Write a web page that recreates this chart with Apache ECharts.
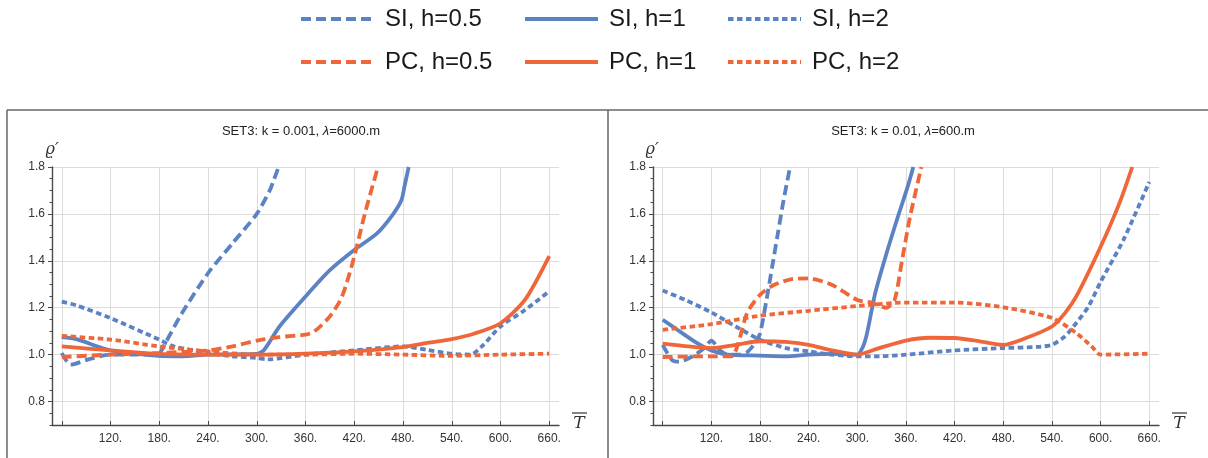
<!DOCTYPE html>
<html>
<head>
<meta charset="utf-8">
<script src="https://cdn.jsdelivr.net/npm/echarts@6/dist/echarts.min.js"></script>
<style>
  html, body { margin: 0; padding: 0; background: #ffffff; }
  #chart { width: 1208px; height: 458px; }
</style>
</head>
<body>
<div id="chart"></div>
<script>
// Tick values shared by both panels
const xTickValues = [60, 120, 180, 240, 300, 360, 420, 480, 540, 600, 660];
const xLabelValues = [120, 180, 240, 300, 360, 420, 480, 540, 600, 660];
const yTickValues = [0.8, 1.0, 1.2, 1.4, 1.6, 1.8];

const seriesNames = ['SI, h=0.5', 'SI, h=1', 'SI, h=2', 'PC, h=0.5', 'PC, h=1', 'PC, h=2'];
const panelTitles = ['SET3: k = 0.001, ', 'SET3: k = 0.01, '];
const panelLambdas = ['=6000.m', '=600.m'];

// Panel 1: k = 0.001, lambda = 6000 m
const k1_SI05_x = [60, 71, 93, 120, 150, 180, 186, 208, 240, 270, 300, 316, 320, 327];
const k1_SI05_y = [1.007, 0.957, 0.98, 1.0, 1.0, 1.007, 1.04, 1.177, 1.347, 1.474, 1.60, 1.70, 1.736, 1.80];
const k1_SI1_x = [60, 78, 120, 180, 208, 240, 300, 309, 328, 360, 390, 420, 448, 467, 478, 482, 487];
const k1_SI1_y = [1.075, 1.066, 1.018, 0.995, 0.993, 1.0, 1.003, 1.02, 1.12, 1.248, 1.36, 1.446, 1.517, 1.595, 1.658, 1.72, 1.80];
const k1_SI2_x = [60, 78, 120, 180, 198, 240, 270, 300, 313, 360, 420, 480, 510, 540, 563, 577, 600, 630, 660];
const k1_SI2_y = [1.226, 1.21, 1.156, 1.064, 1.035, 1.007, 0.993, 0.986, 0.98, 1.0, 1.018, 1.035, 1.02, 1.004, 1.0, 1.035, 1.12, 1.19, 1.27];
const k1_PC05_x = [60, 120, 180, 240, 270, 300, 328, 360, 371, 390, 405, 420, 433, 448];
const k1_PC05_y = [0.99, 1.0, 1.007, 1.018, 1.035, 1.06, 1.075, 1.085, 1.099, 1.163, 1.248, 1.418, 1.60, 1.786];
const k1_PC1_x = [60, 120, 180, 240, 300, 360, 420, 480, 510, 540, 568, 600, 630, 660];
const k1_PC1_y = [1.035, 1.018, 1.003, 1.0, 1.0, 1.004, 1.014, 1.032, 1.05, 1.066, 1.09, 1.134, 1.233, 1.42];
const k1_PC2_x = [60, 120, 180, 240, 300, 360, 420, 480, 540, 600, 660];
const k1_PC2_y = [1.08, 1.064, 1.035, 1.014, 1.0, 1.0, 1.004, 1.0, 0.995, 1.0, 1.004];

// Panel 2: k = 0.01, lambda = 600 m
const k2_SI05_x = [60, 71, 80, 97, 112, 120, 130, 140, 154, 164, 174, 180, 188, 195, 202, 209, 217];
const k2_SI05_y = [1.042, 0.979, 0.97, 0.993, 1.03, 1.06, 1.02, 1.0, 1.0, 1.01, 1.05, 1.09, 1.234, 1.375, 1.517, 1.658, 1.80];
const k2_SI1_x = [60, 78, 102, 120, 140, 180, 212, 240, 269, 300, 307, 312, 322, 336, 350, 362, 369];
const k2_SI1_y = [1.149, 1.106, 1.05, 1.018, 1.0, 0.996, 0.993, 1.0, 1.003, 1.0, 1.035, 1.092, 1.262, 1.432, 1.588, 1.715, 1.80];
const k2_SI2_x = [60, 88, 120, 150, 180, 212, 240, 269, 300, 327, 360, 420, 480, 522, 540, 556, 570, 585, 600, 628, 660];
const k2_SI2_y = [1.273, 1.233, 1.18, 1.12, 1.064, 1.028, 1.014, 1.0, 0.993, 0.993, 1.0, 1.018, 1.028, 1.033, 1.042, 1.078, 1.135, 1.205, 1.31, 1.488, 1.736];
const k2_PC05_x = [60, 120, 145, 152, 164, 180, 197, 221, 240, 269, 300, 317, 336, 346, 355, 365, 379];
const k2_PC05_y = [0.99, 0.993, 0.993, 1.035, 1.177, 1.255, 1.297, 1.323, 1.325, 1.297, 1.233, 1.222, 1.20, 1.234, 1.40, 1.588, 1.80];
const k2_PC1_x = [60, 92, 120, 150, 180, 212, 240, 269, 300, 327, 360, 389, 420, 451, 480, 508, 540, 556, 570, 600, 623, 639];
const k2_PC1_y = [1.047, 1.035, 1.028, 1.042, 1.057, 1.054, 1.042, 1.018, 1.0, 1.028, 1.06, 1.072, 1.071, 1.057, 1.042, 1.071, 1.12, 1.177, 1.248, 1.46, 1.644, 1.80];
const k2_PC2_x = [60, 120, 180, 240, 300, 360, 420, 480, 540, 570, 589, 600, 660];
const k2_PC2_y = [1.106, 1.13, 1.166, 1.187, 1.207, 1.222, 1.222, 1.202, 1.156, 1.092, 1.035, 1.0, 1.004];

const BLUE = '#5b82c3';
const ORANGE = '#ef6638';
const DASHED = [10, 5];
const DOTTED = [5.5, 3.5];
const FONT = 'Liberation Sans, Arial, sans-serif';

const styleOf = [
  { color: BLUE, type: DASHED },
  { color: BLUE, type: 'solid' },
  { color: BLUE, type: DOTTED },
  { color: ORANGE, type: DASHED },
  { color: ORANGE, type: 'solid' },
  { color: ORANGE, type: DOTTED }
];

const panelData = [
  [[k1_SI05_x, k1_SI05_y], [k1_SI1_x, k1_SI1_y], [k1_SI2_x, k1_SI2_y],
   [k1_PC05_x, k1_PC05_y], [k1_PC1_x, k1_PC1_y], [k1_PC2_x, k1_PC2_y]],
  [[k2_SI05_x, k2_SI05_y], [k2_SI1_x, k2_SI1_y], [k2_SI2_x, k2_SI2_y],
   [k2_PC05_x, k2_PC05_y], [k2_PC1_x, k2_PC1_y], [k2_PC2_x, k2_PC2_y]]
];

function pairs(xs, ys) { return xs.map((x, i) => [x, ys[i]]); }

const gridLefts = [52, 653];
const gridWidths = [507, 506];
const GRID_TOP = 167;
const GRID_H = 258;

const grids = gridLefts.map((l, i) => ({
  left: l, top: GRID_TOP, width: gridWidths[i], height: GRID_H,
  containLabel: false, outerBoundsMode: 'none'
}));

const xAxes = [0, 1].map(i => ({
  type: 'value', gridIndex: i, min: 48, max: 672,
  axisLine: { show: true, onZero: false, lineStyle: { color: '#4a4a4a', width: 1.4 } },
  axisTick: { show: true, inside: true, length: 4, customValues: xTickValues,
              lineStyle: { color: '#4a4a4a', width: 1 } },
  axisLabel: { show: true, customValues: xLabelValues, margin: 8,
               formatter: v => v + '.', color: '#333', fontSize: 12, fontFamily: FONT },
  splitLine: { show: true, lineStyle: { color: '#dcdcdc', width: 1 } }
}));

const yAxes = [];
[0, 1].forEach(i => {
  yAxes.push({
    type: 'value', gridIndex: i, min: 0.7, max: 1.8, position: 'left',
    axisLine: { show: true, onZero: false, lineStyle: { color: '#4a4a4a', width: 1.4 } },
    axisTick: { show: true, inside: false, length: 4, customValues: yTickValues,
                lineStyle: { color: '#4a4a4a', width: 1 } },
    axisLabel: { show: true, customValues: yTickValues, margin: 7,
                 formatter: v => v.toFixed(1), color: '#333', fontSize: 12, fontFamily: FONT },
    splitLine: { show: true, lineStyle: { color: '#dcdcdc', width: 1 } }
  });
  // minor ticks every 0.05
  yAxes.push({
    type: 'value', gridIndex: i, min: 0.7, max: 1.8, interval: 0.05, position: 'left', offset: 0,
    axisLine: { show: false },
    axisTick: { show: true, inside: false, length: 2.5, lineStyle: { color: '#4a4a4a', width: 1 } },
    axisLabel: { show: false },
    splitLine: { show: false }
  });
});

const series = [];
[0, 1].forEach(p => {
  panelData[p].forEach((d, s) => {
    series.push({
      name: seriesNames[s], type: 'line',
      xAxisIndex: p, yAxisIndex: p * 2,
      data: pairs(d[0], d[1]),
      showSymbol: false, symbol: 'none', smooth: 0.25, clip: true,
      lineStyle: { color: styleOf[s].color, width: 3.8, type: styleOf[s].type, cap: 'butt' },
      itemStyle: { color: styleOf[s].color },
      emphasis: { disabled: true },
      z: s >= 3 ? 3 : 2
    });
  });
});

const legendCols = [299, 523, 726];
const legendRows = [19, 62];
const legends = seriesNames.map((n, i) => ({
  data: [n], selectedMode: false,
  left: legendCols[i % 3], top: legendRows[Math.floor(i / 3)] - 12,
  itemWidth: 73, itemHeight: 14, padding: 0,
  lineStyle: { width: 4 },
  itemStyle: { opacity: 0 },
  textStyle: { fontSize: 24, lineHeight: 24, color: '#1a1a1a', fontFamily: FONT, padding: [0, 0, 0, 6] }
}));

const graphics = [
  { type: 'line', shape: { x1: 7, y1: 110, x2: 1208, y2: 110 }, style: { stroke: '#666', lineWidth: 1.5 } },
  { type: 'line', shape: { x1: 7, y1: 110, x2: 7, y2: 458 }, style: { stroke: '#666', lineWidth: 1.5 } },
  { type: 'line', shape: { x1: 608, y1: 110, x2: 608, y2: 458 }, style: { stroke: '#666', lineWidth: 1.5 } }
];
const titleCenters = [301, 903];
[0, 1].forEach(i => {
  graphics.push({
    type: 'text', x: titleCenters[i], y: 131,
    style: {
      text: '{n|' + panelTitles[i] + '}{l|λ}{n|' + panelLambdas[i] + '}',
      align: 'center', verticalAlign: 'middle',
      rich: {
        n: { fontSize: 13, fontFamily: FONT, fill: '#222' },
        l: { fontSize: 13, fontFamily: FONT, fontStyle: 'italic', fill: '#222' }
      }
    }
  });
  const ox = i * 600;
  graphics.push({
    type: 'text', x: 52 + ox, y: 150,
    style: { text: 'ϱ′', fontSize: 16, fontFamily: 'DejaVu Serif', fontStyle: 'italic',
             fill: '#333', align: 'center', verticalAlign: 'middle' }
  });
  graphics.push({
    type: 'text', x: 579 + ox, y: 424,
    style: { text: 'T', fontSize: 17, fontFamily: 'DejaVu Serif', fontStyle: 'italic',
             fill: '#333', align: 'center', verticalAlign: 'middle' }
  });
  graphics.push({
    type: 'line', shape: { x1: 572 + ox, y1: 413, x2: 587 + ox, y2: 413 },
    style: { stroke: '#333', lineWidth: 1.2 }
  });
});

const chart = echarts.init(document.getElementById('chart'), null, { renderer: 'canvas' });
chart.setOption({
  animation: false,
  backgroundColor: '#ffffff',
  grid: grids,
  xAxis: xAxes,
  yAxis: yAxes,
  legend: legends,
  series: series,
  graphic: graphics
});
</script>
</body>
</html>
